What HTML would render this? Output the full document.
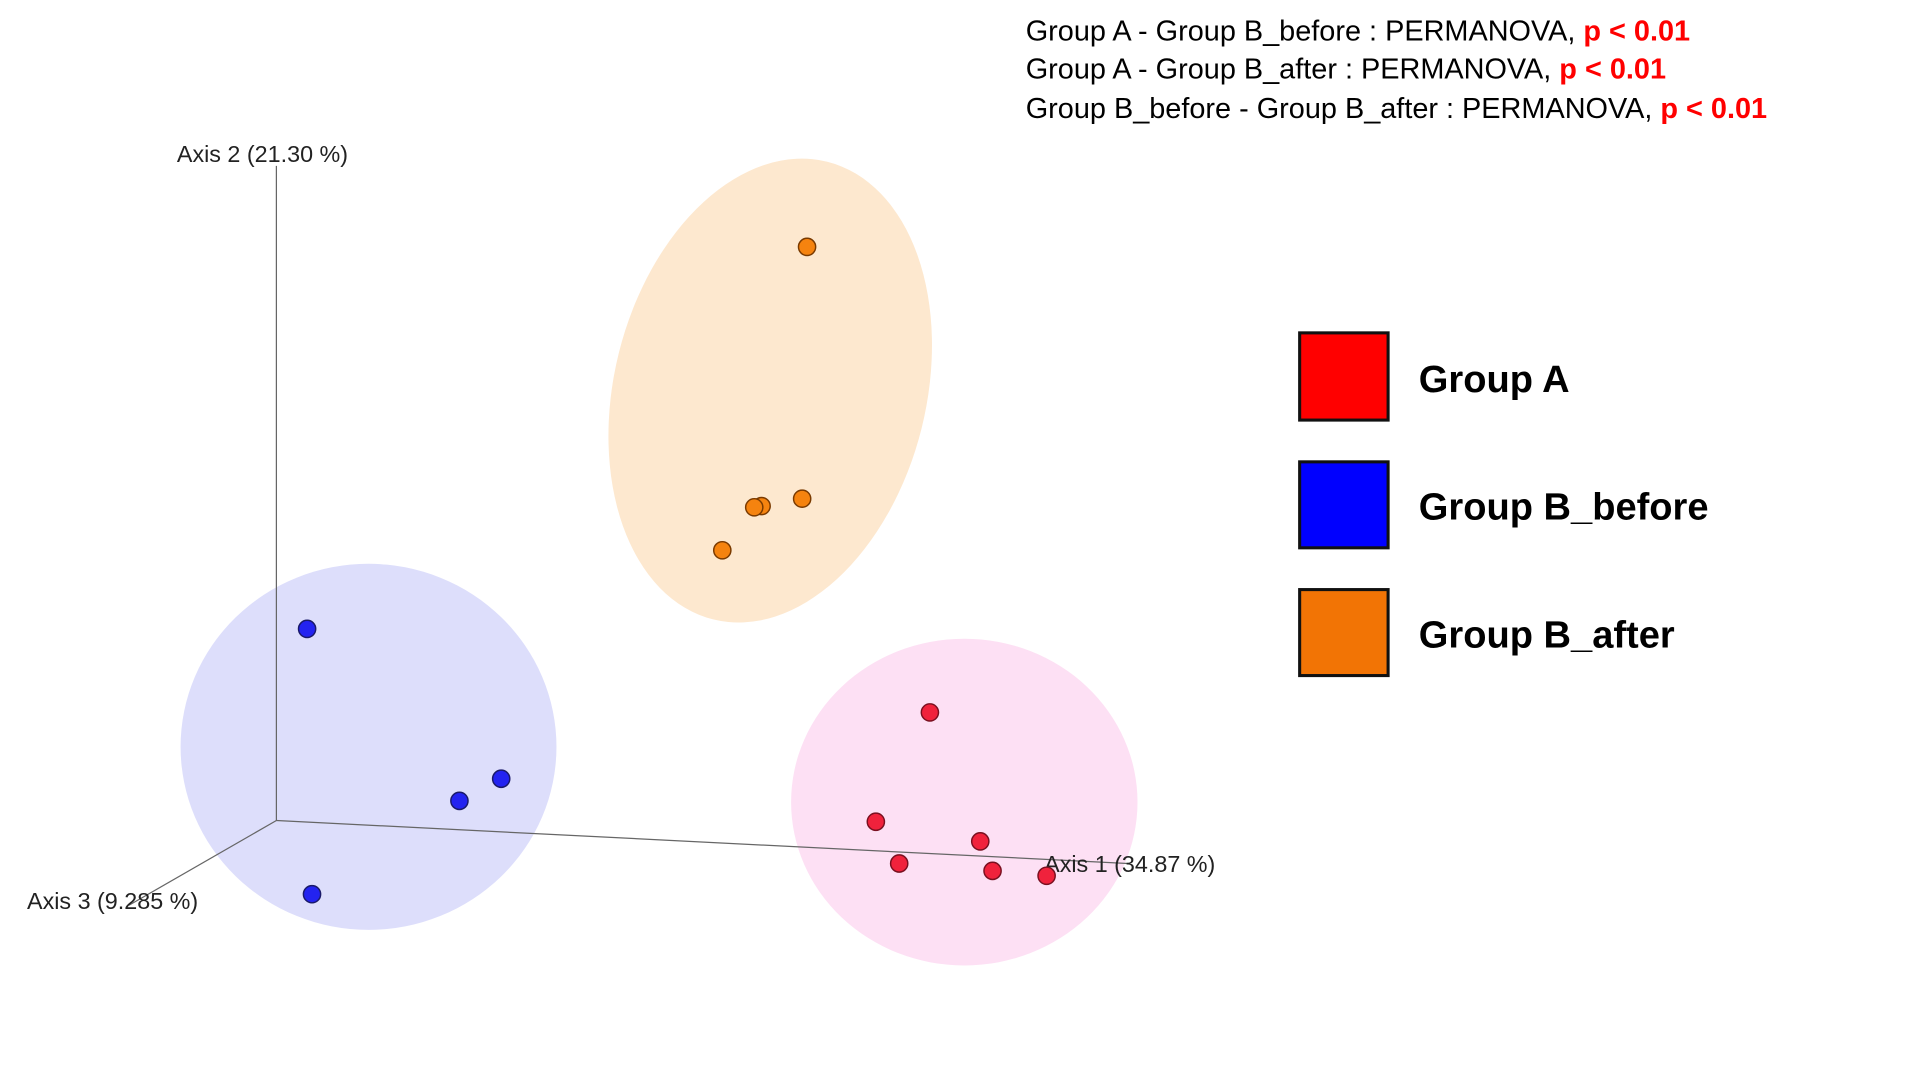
<!DOCTYPE html>
<html><head><meta charset="utf-8"><style>
html,body{margin:0;padding:0;background:#fff;}
svg{display:block;font-family:"Liberation Sans",Arial,sans-serif;}
</style></head><body>
<svg id="chart" width="1920" height="1076" viewBox="0 0 1563 876" preserveAspectRatio="none" xmlns="http://www.w3.org/2000/svg">
<g font-size="23.5" fill="#000">
<text x="835" y="33">Group A - Group B_before : PERMANOVA, <tspan fill="#ff0000" font-weight="bold">p &lt; 0.01</tspan></text>
<text x="835" y="64">Group A - Group B_after : PERMANOVA, <tspan fill="#ff0000" font-weight="bold">p &lt; 0.01</tspan></text>
<text x="835" y="96">Group B_before - Group B_after : PERMANOVA, <tspan fill="#ff0000" font-weight="bold">p &lt; 0.01</tspan></text>
</g>
<ellipse cx="627" cy="318" rx="127" ry="192" transform="rotate(14 627 318)" fill="#fde8cf"/>
<ellipse cx="300" cy="608" rx="153" ry="149" fill="#dddefb"/>
<ellipse cx="785" cy="653" rx="141" ry="133" fill="#fde0f4"/>
<g stroke="#666" stroke-width="1">
<line x1="225" y1="668" x2="225" y2="135"/>
<line x1="225" y1="668" x2="918" y2="703"/>
<line x1="225" y1="668" x2="105" y2="737"/>
</g>
<g font-size="19" fill="#222">
<text x="144" y="132">Axis 2 (21.30 %)</text>
<text x="850" y="710">Axis 1 (34.87 %)</text>
<text x="22" y="740">Axis 3 (9.285 %)</text>
</g>
<g id="points"></g>
<g font-size="31" font-weight="bold">
<rect x="1058" y="271" width="72" height="71" fill="#ff0000" stroke="#111" stroke-width="2.5"/>
<text x="1155" y="319">Group A</text>
<rect x="1058" y="376" width="72" height="70" fill="#0000ff" stroke="#111" stroke-width="2.5"/>
<text x="1155" y="423">Group B_before</text>
<rect x="1058" y="480" width="72" height="70" fill="#f27405" stroke="#111" stroke-width="2.5"/>
<text x="1155" y="527">Group B_after</text>
</g>
</svg>
<script>
// Projected screen coordinates in chart units (origin at axis intersection)
const groupAx = [106.4, 97.6, 114.6, 101.4, 116.6, 125.4];
const groupAy = [17.6, -0.2, -3.4, -7, -8.2, -9];
const beforeX = [5, 36.6, 29.8, 5.8];
const beforeY = [31.2, 6.8, 3.2, -12];
const afterX = [86.4, 85.6, 79, 77.8, 72.6];
const afterY = [93.4, 52.4, 51.2, 51, 44];
const groupNames = ['group-a', 'group-b-before', 'group-b-after'];

function xScale(v){ return 225 + v * 5; }
function yScale(v){ return 668 - v * 5; }

const g = document.getElementById('points');
const NS = 'http://www.w3.org/2000/svg';
function drawSeries(xs, ys, fill, stroke, name){
  for (let i = 0; i < xs.length; i++){
    const c = document.createElementNS(NS, 'circle');
    c.setAttribute('cx', xScale(xs[i]));
    c.setAttribute('cy', yScale(ys[i]));
    c.setAttribute('r', 7);
    c.setAttribute('fill', fill);
    c.setAttribute('stroke', stroke);
    c.setAttribute('stroke-width', 1.2);
    
    
    g.appendChild(c);
  }
}
drawSeries(beforeX, beforeY, '#2323f0', '#1a1a6a', groupNames[1]);
drawSeries(afterX, afterY, '#f5830f', '#7a3a00', groupNames[2]);
drawSeries(groupAx, groupAy, '#f0223c', '#7a1020', groupNames[0]);
</script>
</body></html>
